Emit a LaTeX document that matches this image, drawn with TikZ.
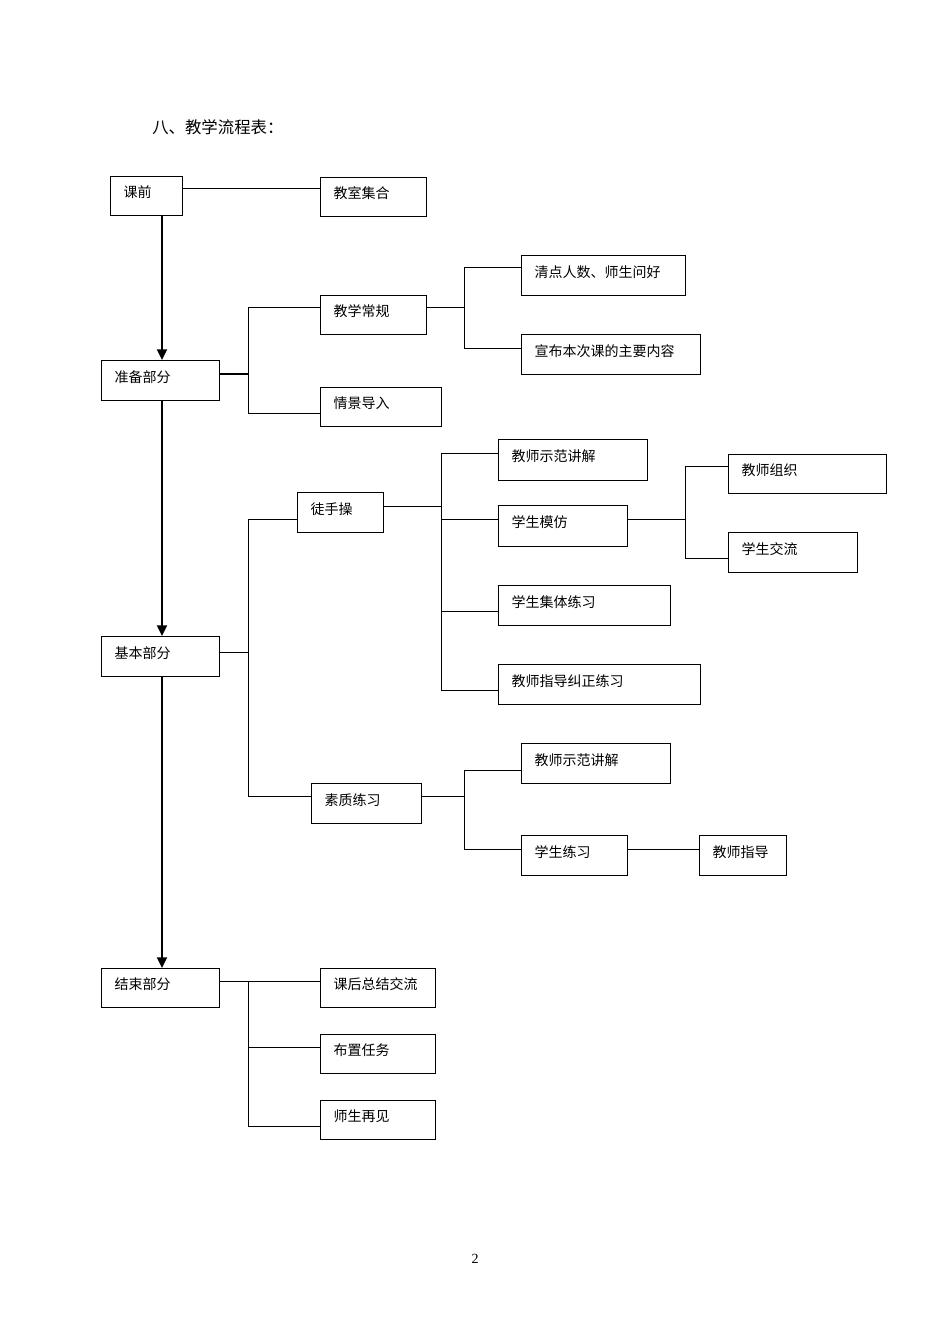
\documentclass[tikz,border=0pt]{standalone}
\usepackage{fontspec}
\newfontfamily\cjk{Noto Sans CJK SC}
\newfontfamily\numfont{Liberation Serif}
\usetikzlibrary{arrows.meta}
\newcommand\bx[6]{%
  \pgfmathsetmacro\bxw{(#4-#2)*0.75-19.5}%
  \pgfmathsetmacro\bxh{(#5-#3)*0.75}%
  \node[box, text width=\bxw pt, minimum height=\bxh pt] (#1) at (#2,#3) {#6};}
\begin{document}
\begin{tikzpicture}[x=0.75pt,y=-0.75pt,
  box/.style={draw, line width=0.9pt, inner xsep=9.75pt, inner ysep=0pt, align=left,
    text height=7pt, text depth=4.2pt, font=\cjk\fontsize{10.5}{12}\selectfont, anchor=north west},
  conn/.style={line width=0.75pt},
  mainarrow/.style={line width=1.6pt, -{Triangle[width=7.5pt,length=8pt]}}]
\fill[white] (0,0) rectangle (950,1344);
\useasboundingbox (0,0) rectangle (950,1344);

\node[font=\cjk\fontsize{12.3}{14}\selectfont, inner sep=0pt, anchor=west] (title) at (152,127) {八、教学流程表：};
\node[font=\numfont\fontsize{10.5}{12}\selectfont, inner sep=0pt] (pageno) at (475,1259) {2};

% boxes
\bx{kq}{110}{176}{182}{215}{课前}
\bx{jsjh}{320}{177}{426}{216}{教室集合}
\bx{qdrs}{521}{255}{685}{295}{清点人数、师生问好}
\bx{jxcg}{320}{295}{426}{334}{教学常规}
\bx{xbbc}{521}{334}{700}{374}{宣布本次课的主要内容}
\bx{zbbf}{101}{360}{219}{400}{准备部分}
\bx{qjdr}{320}{387}{441}{426}{情景导入}
\bx{jssf1}{498}{439}{647}{480}{教师示范讲解}
\bx{jszz}{728}{454}{886}{493}{教师组织}
\bx{tsc}{297}{492}{383}{532}{徒手操}
\bx{xsmf}{498}{505}{627}{546}{学生模仿}
\bx{xsjl}{728}{532}{857}{572}{学生交流}
\bx{xsjt}{498}{585}{670}{625}{学生集体练习}
\bx{jbbf}{101}{636}{219}{676}{基本部分}
\bx{jszd}{498}{664}{700}{704}{教师指导纠正练习}
\bx{jssf2}{521}{743}{670}{783}{教师示范讲解}
\bx{szlx}{311}{783}{421}{823}{素质练习}
\bx{xslx}{521}{835}{627}{875}{学生练习}
\bx{jszdao}{699}{835}{786}{875}{教师指导}
\bx{jsbf}{101}{968}{219}{1007}{结束部分}
\bx{khzj}{320}{968}{435}{1007}{课后总结交流}
\bx{bzrw}{320}{1034}{435}{1073}{布置任务}
\bx{sszj}{320}{1100}{435}{1139}{师生再见}

% main spine
\coordinate (sx) at (162,0);
\draw[mainarrow] (kq.south -| sx) -- (zbbf.north -| sx);
\draw[mainarrow] (zbbf.south -| sx) -- (jbbf.north -| sx);
\draw[mainarrow] (jbbf.south -| sx) -- (jsbf.north -| sx);

% junction coordinates
\coordinate (a0) at (0,189);
\coordinate (b0) at (248,374); \coordinate (b1) at (248,308); \coordinate (b2) at (248,413);
\coordinate (c0) at (464,308); \coordinate (c1) at (464,268); \coordinate (c2) at (464,348);
\coordinate (d0) at (248,652); \coordinate (d1) at (248,519); \coordinate (d2) at (248,796);
\coordinate (e0) at (441,506); \coordinate (e1) at (441,453); \coordinate (e2) at (441,519);
\coordinate (e3) at (441,611); \coordinate (e4) at (441,690);
\coordinate (f0) at (685,519); \coordinate (f1) at (685,466); \coordinate (f2) at (685,558);
\coordinate (g0) at (464,796); \coordinate (g1) at (464,770); \coordinate (g2) at (464,849);
\coordinate (h0) at (248,981); \coordinate (h1) at (248,1047); \coordinate (h2) at (248,1126);

% connectors
\draw[conn] (kq.east |- a0) -- (jsjh.west |- a0);
\draw[conn, line width=1.3pt] (zbbf.east |- b0) -- (b0);
\draw[conn] (jxcg.west |- b1) -- (b1) -- (b2) -- (qjdr.west |- b2);
\draw[conn] (jxcg.east |- c0) -- (c0);
\draw[conn] (qdrs.west |- c1) -- (c1) -- (c2) -- (xbbc.west |- c2);
\draw[conn] (jbbf.east |- d0) -- (d0);
\draw[conn] (tsc.west |- d1) -- (d1) -- (d2) -- (szlx.west |- d2);
\draw[conn] (tsc.east |- e0) -- (e0);
\draw[conn] (jssf1.west |- e1) -- (e1) -- (e4) -- (jszd.west |- e4);
\draw[conn] (e2) -- (xsmf.west |- e2);
\draw[conn] (e3) -- (xsjt.west |- e3);
\draw[conn] (xsmf.east |- f0) -- (f0);
\draw[conn] (jszz.west |- f1) -- (f1) -- (f2) -- (xsjl.west |- f2);
\draw[conn] (szlx.east |- g0) -- (g0);
\draw[conn] (jssf2.west |- g1) -- (g1) -- (g2) -- (xslx.west |- g2);
\draw[conn] (xslx.east |- g2) -- (jszdao.west |- g2);
\draw[conn] (jsbf.east |- h0) -- (khzj.west |- h0);
\draw[conn] (h0) -- (h2) -- (sszj.west |- h2);
\draw[conn] (h1) -- (bzrw.west |- h1);
\end{tikzpicture}
\end{document}
